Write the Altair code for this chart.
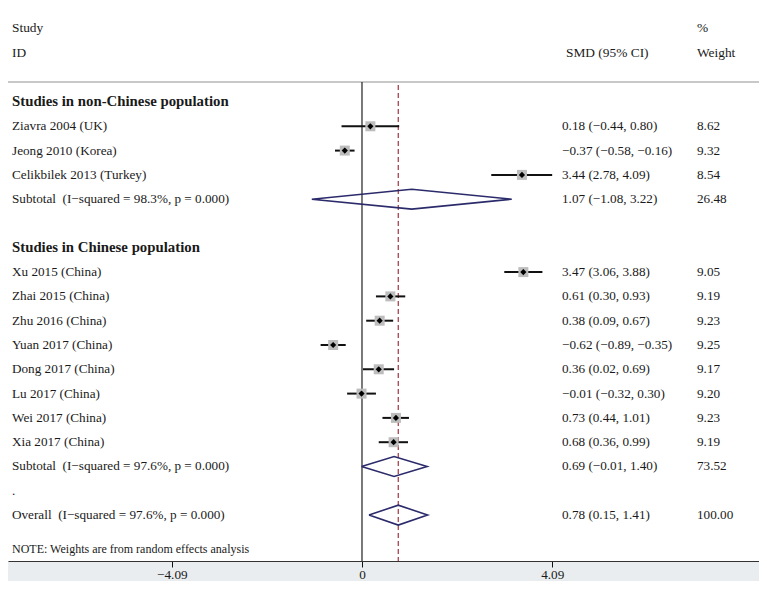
import altair as alt
import pandas as pd

# ---------------- data ----------------
section_titles = ["Studies in non-Chinese population", "Studies in Chinese population"]

group1_labels = ["Ziavra 2004 (UK)", "Jeong 2010 (Korea)", "Celikbilek 2013 (Turkey)"]
group1_smd = [0.18, -0.37, 3.44]
group1_lo = [-0.44, -0.58, 2.78]
group1_hi = [0.80, -0.16, 4.09]
group1_w = [8.62, 9.32, 8.54]

group2_labels = ["Xu 2015 (China)", "Zhai 2015 (China)", "Zhu 2016 (China)", "Yuan 2017 (China)",
                 "Dong 2017 (China)", "Lu 2017 (China)", "Wei 2017 (China)", "Xia 2017 (China)"]
group2_smd = [3.47, 0.61, 0.38, -0.62, 0.36, -0.01, 0.73, 0.68]
group2_lo = [3.06, 0.30, 0.09, -0.89, 0.02, -0.32, 0.44, 0.36]
group2_hi = [3.88, 0.93, 0.67, -0.35, 0.69, 0.30, 1.01, 0.99]
group2_w = [9.05, 9.19, 9.23, 9.25, 9.17, 9.20, 9.23, 9.19]

subtotal_labels = ["Subtotal \u00a0(I\u2212squared = 98.3%, p = 0.000)",
                   "Subtotal \u00a0(I\u2212squared = 97.6%, p = 0.000)"]
subtotal_smd = [1.07, 0.69]
subtotal_lo = [-1.08, -0.01]
subtotal_hi = [3.22, 1.40]
subtotal_w = [26.48, 73.52]

overall_label = "Overall \u00a0(I\u2212squared = 97.6%, p = 0.000)"
overall_smd = 0.78
overall_lo = 0.15
overall_hi = 1.41
overall_w = 100.00

axis_ticks = [-4.09, 0, 4.09]
note_text = "NOTE: Weights are from random effects analysis"


def fmt(v):
    return f"{v:.2f}".replace("-", "\u2212")


# ---------------- build tables ----------------
rows = []
row = 0
rows.append(dict(row=row, label=section_titles[0], kind="header"))
row += 1
for lab, e, l, h, w in zip(group1_labels, group1_smd, group1_lo, group1_hi, group1_w):
    rows.append(dict(row=row, label=lab, kind="study", est=e, lo=l, hi=h, w=w))
    row += 1
rows.append(dict(row=row, label=subtotal_labels[0], kind="summary", est=subtotal_smd[0],
                 lo=subtotal_lo[0], hi=subtotal_hi[0], w=subtotal_w[0]))
row += 2
rows.append(dict(row=row, label=section_titles[1], kind="header"))
row += 1
for lab, e, l, h, w in zip(group2_labels, group2_smd, group2_lo, group2_hi, group2_w):
    rows.append(dict(row=row, label=lab, kind="study", est=e, lo=l, hi=h, w=w))
    row += 1
rows.append(dict(row=row, label=subtotal_labels[1], kind="summary", est=subtotal_smd[1],
                 lo=subtotal_lo[1], hi=subtotal_hi[1], w=subtotal_w[1]))
row += 1
rows.append(dict(row=row, label=".", kind="blank"))
row += 1
rows.append(dict(row=row, label=overall_label, kind="summary", est=overall_smd,
                 lo=overall_lo, hi=overall_hi, w=overall_w))

df = pd.DataFrame(rows)
df["ci_text"] = df.apply(
    lambda r: f"{fmt(r['est'])} ({fmt(r['lo'])}, {fmt(r['hi'])})" if r["kind"] in ("study", "summary") else "",
    axis=1)
df["w_text"] = df.apply(lambda r: f"{r['w']:.2f}" if r["kind"] in ("study", "summary") else "", axis=1)

studies = df[df.kind == "study"]
summaries = df[df.kind == "summary"].reset_index(drop=True)

dia = []
half = 0.41
for i, r in summaries.iterrows():
    pts = [(r.lo, r.row), (r.est, r.row - half), (r.hi, r.row), (r.est, r.row + half), (r.lo, r.row)]
    for k, (x, y) in enumerate(pts):
        dia.append(dict(id=i, order=k, x=x, y=y))
dia = pd.DataFrame(dia)

# ---------------- layout ----------------
W, H, BAND = 751, 553, 20
xs = alt.Scale(domain=[-7.613, 8.538], nice=False, zero=False)
ys = alt.Scale(domain=[-3.868, (H - 94) / 24.3], nice=False, zero=False, reverse=True)
FONT = "Liberation Serif"
TXT = "#1a1a1a"
FS = 13.2

base = alt.Chart(df)

band = alt.Chart(pd.DataFrame({"a": [0]})).mark_rect(color="#e9edef").encode(
    x=alt.value(0), x2=alt.value(W), y=alt.value(H), y2=alt.value(H + BAND))

labels_normal = base.transform_filter("datum.kind != 'header'").mark_text(
    align="left", baseline="middle", font=FONT, fontSize=FS, color=TXT
).encode(x=alt.value(4), y=alt.Y("row:Q", scale=ys, axis=None), text="label:N")

labels_bold = base.transform_filter("datum.kind == 'header'").mark_text(
    align="left", baseline="middle", font=FONT, fontSize=14.8, fontWeight="bold", color=TXT
).encode(x=alt.value(4), y=alt.Y("row:Q", scale=ys, axis=None), text="label:N")

ci_text = base.mark_text(align="left", baseline="middle", font=FONT, fontSize=FS, color=TXT).encode(
    x=alt.value(554), y=alt.Y("row:Q", scale=ys, axis=None), text="ci_text:N")

w_text = base.mark_text(align="left", baseline="middle", font=FONT, fontSize=FS, color=TXT).encode(
    x=alt.value(689), y=alt.Y("row:Q", scale=ys, axis=None), text="w_text:N")

xaxis = alt.Axis(values=axis_ticks, title=None, grid=False, tickSize=6, tickColor="#111",
                 domainColor="#333", domainWidth=1, labelFont=FONT, labelFontSize=FS,
                 labelColor=TXT, labelPadding=1, zindex=1,
                 labelExpr="datum.value == 0 ? '0' : replace(format(datum.value, '.2f'), '-', '\u2212')")

zero_line = alt.Chart(pd.DataFrame({"x": [0.0]})).mark_rule(color="#222", strokeWidth=1.2).encode(
    x=alt.X("x:Q", scale=xs, axis=xaxis), y=alt.value(74), y2=alt.value(H))

overall_line = alt.Chart(pd.DataFrame({"x": [overall_smd]})).mark_rule(
    color="#a2343c", strokeWidth=1.2, strokeDash=[5, 3]).encode(
    x=alt.X("x:Q", scale=xs), y=alt.value(77), y2=alt.value(H))

top_line = alt.Chart(pd.DataFrame({"a": [0]})).mark_rule(color="#c8c8c8", strokeWidth=2).encode(
    x=alt.value(0), x2=alt.value(W), y=alt.value(74))

ci_rules = alt.Chart(studies).mark_rule(color="#111", strokeWidth=2).encode(
    x=alt.X("lo:Q", scale=xs), x2="hi:Q", y=alt.Y("row:Q", scale=ys, axis=None))

boxes = alt.Chart(studies).mark_square(color="#bdbdbd", opacity=1, size=100).encode(
    x=alt.X("est:Q", scale=xs), y=alt.Y("row:Q", scale=ys, axis=None))

points = alt.Chart(studies).mark_point(shape="diamond", filled=True, color="#000", size=38, opacity=1).encode(
    x=alt.X("est:Q", scale=xs), y=alt.Y("row:Q", scale=ys, axis=None))

diamonds = alt.Chart(dia).mark_line(color="#2b2a6b", strokeWidth=1.6).encode(
    x=alt.X("x:Q", scale=xs), y=alt.Y("y:Q", scale=ys, axis=None), detail="id:N", order="order:Q")

hdr = pd.DataFrame({
    "t": ["Study", "ID", "SMD (95% CI)", "%", "Weight"],
    "px": [4, 4, 558, 689, 689],
    "py": [20, 45, 45, 20, 45],
})
headers = alt.Chart(hdr).mark_text(align="left", baseline="middle", font=FONT, fontSize=13.4, color=TXT).encode(
    x=alt.X("px:Q", scale=None), y=alt.Y("py:Q", scale=None), text="t:N")

note = alt.Chart(pd.DataFrame({"t": [note_text]})).mark_text(
    align="left", baseline="middle", font=FONT, fontSize=12, color=TXT).encode(
    x=alt.value(4), y=alt.value(541), text="t:N")

chart = alt.layer(
    band, top_line, zero_line, overall_line, ci_rules, boxes, points, diamonds,
    labels_normal, labels_bold, ci_text, w_text, headers, note
).properties(
    width=W, height=H, background="white",
    autosize=alt.AutoSizeParams(type="none"),
    padding={"left": 0, "top": 0, "right": 0, "bottom": BAND}
).configure_view(fill="white", strokeWidth=0)

chart.save("out.html", embed_options={"renderer": "svg", "actions": False})
